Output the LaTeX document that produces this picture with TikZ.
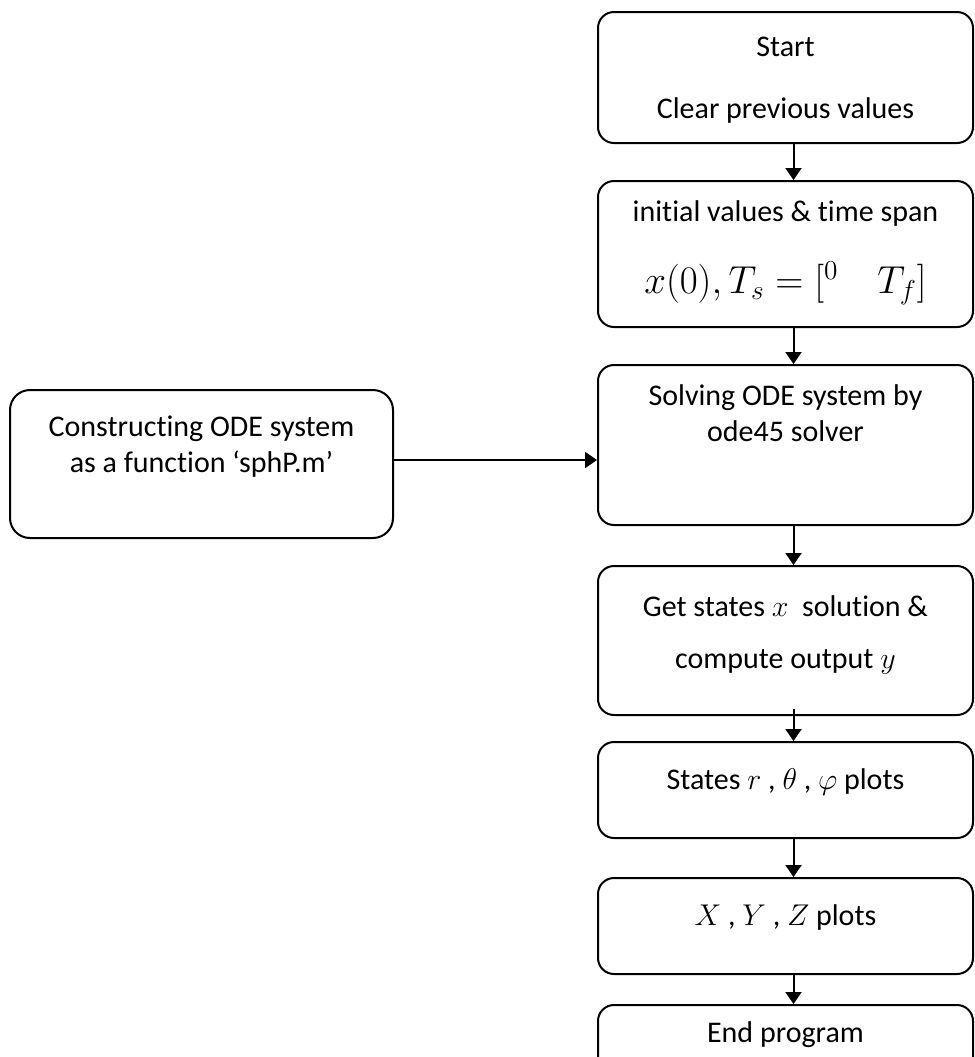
\documentclass[tikz,border=0pt]{standalone}
\usepackage{fix-cm}
\usepackage{fontspec}
\setmainfont{Carlito}[Ligatures=NoCommon]
\usetikzlibrary{arrows.meta,positioning,calc}

\begin{document}
\begin{tikzpicture}[
  x=0.5pt, y=-0.5pt,
  proc/.style={draw, line width=1pt, rounded corners=8pt, minimum width=187.5pt, align=center, font=\fontsize{15}{18}\selectfont, inner sep=2pt},
  arrow/.style={-{Triangle[length=6pt,width=8pt]}, line width=1pt}
]
\useasboundingbox (0,0) rectangle (975,1057);

\node[proc, minimum height=65.5pt, text depth=0pt] (s1) at (785.5,77.5) {Start\\[13pt]Clear previous values};
\node[proc, minimum height=73pt, below=18pt of s1, text depth=7pt] (s2) {initial values \& time span\\[17pt]{\fontsize{19.5}{22}\selectfont $x(0), T_s = [^{0}\quad T_f]$}};
\node[proc, minimum height=80pt, below=18pt of s2, text depth=31.5pt] (s3) {Solving ODE system by\\ode45 solver};
\node[proc, minimum height=74.5pt, below=19.5pt of s3, text depth=8pt] (s4) {Get states $x$\ \ solution \&\\[8pt]compute output $y$};
\node[proc, minimum height=48pt, below=12.5pt of s4, text depth=10.5pt] (s5) {States $r$ , $\theta$ , $\varphi$ plots};
\node[proc, minimum height=48pt, below=19pt of s5, text depth=10.5pt] (s6) {$X$ , $Y$ , $Z$ plots};
\node[proc, minimum height=35pt, below=14.5pt of s6, text depth=7.5pt] (s7) {End program};

\node[proc, minimum width=191.5pt, minimum height=74pt, rounded corners=10pt, text depth=19.5pt] (lf) at (201.5,464) {Constructing ODE system\\as a function ‘sphP.m’};

\draw[arrow] ([xshift=4pt]s1.south) -- ([xshift=4pt]s2.north);
\draw[arrow] ([xshift=4pt]s2.south) -- ([xshift=4pt]s3.north);
\draw[arrow] ([xshift=4pt]s3.south) -- ([xshift=4pt]s4.north);
\draw[arrow] ([xshift=4pt,yshift=3.5pt]s4.south) -- ([xshift=4pt]s5.north);
\draw[arrow] ([xshift=4pt]s5.south) -- ([xshift=4pt]s6.north);
\draw[arrow] ([xshift=4pt]s6.south) -- ([xshift=4pt]s7.north);
\draw[arrow] ([yshift=2pt]lf.east) -- ([yshift=2pt]lf.east -| s3.west);
\end{tikzpicture}
\end{document}
